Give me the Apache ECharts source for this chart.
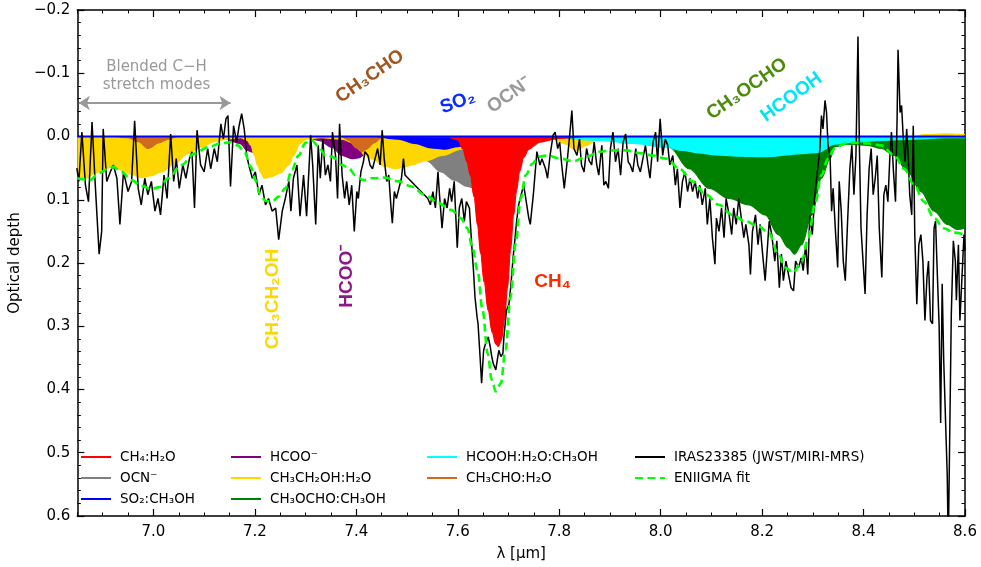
<!DOCTYPE html>
<html>
<head>
<meta charset="utf-8">
<script src="https://cdn.jsdelivr.net/npm/echarts@6/dist/echarts.min.js"></script>
<style>
html, body { margin: 0; padding: 0; background: #fff; }
#chart { width: 981px; height: 567px; }
</style>
</head>
<body>
<div id="chart"></div>
<script>
var obsX = [6.849,6.853,6.859,6.866,6.872,6.879,6.885,6.893,6.898,6.901,6.908,6.915,6.921,6.928,6.934,6.941,6.950,6.957,6.963,6.970,6.976,6.983,6.989,6.996,7.003,7.009,7.014,7.021,7.027,7.034,7.040,7.045,7.051,7.058,7.064,7.071,7.076,7.081,7.086,7.093,7.100,7.107,7.113,7.120,7.126,7.133,7.138,7.143,7.147,7.152,7.158,7.164,7.169,7.174,7.179,7.184,7.188,7.195,7.201,7.208,7.214,7.221,7.227,7.234,7.241,7.247,7.254,7.260,7.267,7.271,7.276,7.283,7.289,7.296,7.302,
  7.310,7.314,7.320,7.325,7.329,7.334,7.339,7.344,7.349,7.353,7.359,7.363,7.367,7.372,7.377,7.381,7.386,7.391,7.396,7.401,7.404,7.409,7.414,7.417,7.423,7.427,7.432,7.437,7.442,7.447,7.451,7.455,7.460,7.464,7.468,7.471,7.475,7.479,7.484,7.489,7.493,7.496,
  7.541,7.546,7.551,7.556,7.561,7.564,7.569,7.574,7.579,7.584,7.588,7.593,7.599,7.603,7.608,7.613,7.617,7.623,7.627,7.631,7.634,7.638,7.640,7.644,7.647,7.651,7.655,7.660,7.664,7.667,7.670,7.675,7.678,7.681,7.685,7.689,7.691,7.696,7.701,7.705,7.709,7.713,7.716,7.720,7.725,7.730,7.736,7.740,7.743,7.749,
  7.756,7.762,7.766,7.773,7.777,7.782,7.788,7.792,7.797,7.801,7.805,7.810,7.815,7.820,7.825,7.829,7.835,7.840,7.844,7.849,7.854,7.859,7.864,7.869,7.874,7.878,7.884,7.888,7.892,7.897,7.901,7.906,7.911,7.916,7.921,7.926,7.931,7.936,7.940,7.945,7.951,7.955,7.960,7.965,7.970,7.975,7.979,7.985,7.990,7.994,7.999,8.004,8.009,8.014,8.018,8.024,8.029,8.033,8.038,8.043,8.048,8.053,8.058,8.063,8.068,8.073,8.077,8.082,8.088,8.092,8.097,8.102,8.107,8.110,8.115,8.120,8.125,8.129,8.135,8.140,8.144,8.149,8.154,8.159,8.164,8.168,8.174,8.177,8.181,8.187,8.192,8.196,8.201,8.206,
  8.214,8.219,8.225,8.229,8.234,8.238,8.242,8.247,8.252,8.257,8.262,8.266,8.272,8.277,8.281,8.286,8.290,8.294,8.299,8.304,8.309,8.314,8.317,8.320,8.324,8.327,8.330,8.334,8.337,8.340,8.345,8.349,8.352,8.356,8.360,8.364,8.368,8.373,8.377,8.381,8.385,8.389,8.392,8.395,8.399,8.403,8.407,8.411,8.415,8.419,8.423,8.427,8.431,8.436,8.440,8.444,8.448,8.452,8.455,8.459,8.463,8.466,8.468,8.472,8.475,8.478,8.482,8.485,8.488,8.491,8.495,8.498,8.501,8.505,8.509,8.513,8.517,8.521,8.525,8.528,8.532,8.536,8.539,8.542,8.545,8.549,8.552,8.555,8.558,8.562,8.565,8.567,8.570,8.573,8.577,8.581,8.583,8.587,8.590,8.594,8.598,8.600];
var obsY = [0.050,0.071,-0.007,0.077,0.103,-0.023,0.071,0.186,0.150,-0.012,0.071,0.056,0.045,0.066,0.139,0.056,0.087,0.071,-0.025,0.082,0.108,0.066,0.092,0.071,0.118,0.098,0.124,0.061,0.098,-0.004,0.071,0.035,0.082,0.045,0.066,0.035,0.024,0.113,-0.010,0.045,0.056,0.019,0.051,0.019,0.040,-0.020,0.004,-0.028,-0.033,0.079,-0.017,0.009,-0.017,-0.036,-0.012,0.030,0.045,0.066,0.056,0.092,0.077,0.108,0.098,0.118,0.113,0.163,0.118,0.098,0.071,0.118,0.066,0.045,0.126,0.061,0.126,
  -0.002,0.045,0.139,0.014,0.066,0.004,0.061,0.045,0.071,-0.007,0.030,0.098,-0.020,0.061,0.098,0.071,0.108,0.077,0.150,0.087,0.098,0.056,0.040,0.024,0.030,0.045,0.051,0.035,0.019,0.045,-0.010,0.035,0.071,0.061,0.108,0.137,0.087,0.098,0.082,0.066,0.035,0.061,
  0.098,0.108,0.087,0.113,0.056,0.092,0.145,0.098,0.113,0.082,0.103,0.071,0.176,0.113,0.098,0.134,0.103,0.113,0.165,0.212,0.254,0.285,0.296,0.348,0.390,0.338,0.327,0.317,0.332,0.348,0.359,0.369,0.353,0.338,0.348,0.343,0.317,0.275,0.265,0.233,0.192,0.160,0.134,0.108,0.092,0.077,0.108,0.129,0.139,0.092,
  0.024,0.045,0.035,0.051,0.066,0.030,-0.002,-0.007,0.019,0.009,0.045,0.082,0.045,0.004,-0.041,0.019,0.030,0.004,0.045,0.056,0.019,0.038,0.045,0.009,0.045,0.061,0.014,0.077,0.071,0.082,0.019,-0.007,0.040,0.019,0.061,0.009,-0.004,0.040,0.045,0.056,0.019,0.045,0.056,0.035,0.014,0.045,0.066,0.009,-0.007,0.040,-0.028,0.030,0.004,0.014,0.045,0.030,0.077,0.051,0.113,0.071,0.056,0.087,0.066,0.087,0.071,0.098,0.077,0.108,0.082,0.139,0.098,0.160,0.202,0.129,0.150,0.113,0.160,0.098,0.124,0.155,0.113,0.139,0.098,0.129,0.160,0.139,0.171,0.218,0.150,0.124,0.171,0.139,0.186,0.228,
  0.134,0.155,0.197,0.165,0.239,0.186,0.228,0.197,0.218,0.239,0.244,0.197,0.207,0.192,0.212,0.171,0.218,0.124,0.155,0.092,0.056,0.019,-0.033,-0.012,-0.057,-0.038,0.014,0.030,0.118,0.082,0.155,0.207,0.071,0.118,0.197,0.228,0.145,0.051,0.014,0.092,0.030,-0.158,0.024,0.145,0.197,0.249,0.124,0.051,0.019,0.092,0.066,0.030,0.145,0.223,0.092,0.077,0.103,0.030,-0.007,0.056,0.103,-0.023,-0.137,-0.038,-0.049,-0.002,0.040,-0.012,0.030,0.092,0.124,-0.017,0.155,0.265,0.171,0.155,0.197,0.291,0.223,0.197,0.291,0.296,0.145,0.134,0.207,0.299,0.453,0.233,0.353,0.458,0.536,0.650,0.650,0.281,0.165,0.197,0.259,0.171,0.291,0.223,0.155,0.180];

// ENIIGMA fit
var fitX = [6.850,6.866,6.875,6.892,6.911,6.921,6.937,6.957,6.976,6.996,7.012,7.029,7.055,7.081,7.107,7.133,7.152,7.166,7.179,7.192,7.201,7.211,7.221,7.234,7.247,7.260,7.273,7.286,7.300,7.312,7.325,7.339,7.352,7.372,7.385,7.398,7.414,7.430,7.456,7.483,7.509,7.535,7.561,7.587,7.606,7.619,7.629,7.639,7.649,7.659,7.667,7.675,7.685,7.694,7.704,7.714,7.724,7.734,7.747,7.760,7.776,7.802,7.828,7.854,7.880,7.906,7.932,7.958,7.985,8.011,8.037,8.063,8.089,8.115,8.141,8.167,8.193,8.213,8.232,8.245,8.262,8.278,8.291,8.304,8.317,8.330,8.343,8.363,8.382,8.408,8.435,8.461,8.480,8.500,8.519,8.539,8.558,8.578,8.600];
var fitY = [0.066,0.068,0.069,0.058,0.051,0.048,0.056,0.069,0.078,0.083,0.080,0.066,0.045,0.027,0.017,0.011,0.009,0.014,0.024,0.048,0.069,0.092,0.102,0.103,0.095,0.082,0.053,0.030,0.010,0.006,0.015,0.030,0.032,0.045,0.050,0.061,0.069,0.066,0.065,0.071,0.079,0.092,0.105,0.116,0.129,0.145,0.176,0.212,0.275,0.343,0.385,0.403,0.390,0.338,0.254,0.170,0.098,0.061,0.043,0.032,0.030,0.035,0.039,0.032,0.024,0.022,0.022,0.026,0.030,0.035,0.051,0.071,0.092,0.108,0.124,0.134,0.142,0.152,0.186,0.207,0.215,0.197,0.160,0.108,0.061,0.035,0.019,0.011,0.010,0.011,0.014,0.030,0.051,0.077,0.103,0.129,0.145,0.152,0.155];

// fitted ice components
var ch4X = [7.500,7.580,7.600,7.610,7.618,7.625,7.632,7.639,7.645,7.652,7.660,7.668,7.675,7.680,7.686,7.692,7.698,7.704,7.710,7.716,7.722,7.730,7.740,7.760,7.800,7.850];
var ch4Y = [0.000,0.001,0.005,0.020,0.040,0.062,0.095,0.140,0.185,0.230,0.275,0.310,0.328,0.332,0.322,0.290,0.240,0.180,0.125,0.085,0.055,0.033,0.020,0.009,0.003,0.000];

var ocnX = [7.450,7.480,7.510,7.538,7.567,7.593,7.619,7.640,7.660,7.690,7.720,7.745,7.770,7.800,7.830];
var ocnY = [0.000,0.008,0.022,0.038,0.056,0.069,0.079,0.084,0.081,0.062,0.036,0.016,0.006,0.001,0.000];

var so2X = [7.440,7.482,7.515,7.548,7.574,7.600,7.626,7.652,7.700,7.760,7.800];
var so2Y = [0.000,0.004,0.011,0.018,0.020,0.016,0.009,0.004,0.002,0.001,0.000];

var hcooX = [7.110,7.143,7.170,7.186,7.192,7.210,7.230,7.255,7.280,7.300,7.326,7.352,7.372,7.391,7.404,7.420,7.440,7.460,7.490];
var hcooY = [0.000,0.004,0.011,0.022,0.024,0.030,0.026,0.012,0.003,0.001,0.006,0.017,0.030,0.035,0.034,0.026,0.012,0.004,0.000];

var ethX = [6.850,6.866,6.885,6.905,6.921,6.937,6.957,6.976,6.996,7.016,7.042,7.068,7.094,7.120,7.146,7.172,7.185,7.192,7.199,7.205,7.212,7.218,7.231,7.250,7.267,7.276,7.289,7.302,7.330,7.370,7.400,7.417,7.430,7.456,7.476,7.496,7.509,7.538,7.570,7.607,7.640,7.680,7.720,7.760,7.790,7.809,7.835,7.854,7.874,7.887,7.930,8.000,8.500,8.520,8.560,8.600];
var ethY = [0.066,0.066,0.058,0.051,0.048,0.053,0.060,0.065,0.062,0.056,0.043,0.027,0.017,0.008,0.004,0.002,0.006,0.014,0.030,0.045,0.058,0.066,0.064,0.058,0.045,0.030,0.011,0.004,0.002,0.004,0.012,0.030,0.035,0.047,0.051,0.048,0.045,0.038,0.030,0.020,0.012,0.006,0.003,0.002,0.004,0.011,0.022,0.014,0.006,0.003,0.001,0.000,0.000,-0.003,-0.004,-0.003];

var mfX = [7.900,7.950,7.990,8.017,8.056,8.096,8.135,8.174,8.206,8.232,8.252,8.264,8.278,8.298,8.317,8.334,8.343,8.369,8.409,8.435,8.461,8.487,8.513,8.539,8.565,8.585,8.600];
var mfY = [0.000,0.004,0.009,0.017,0.051,0.082,0.098,0.108,0.124,0.155,0.176,0.186,0.171,0.124,0.066,0.035,0.016,0.012,0.014,0.019,0.030,0.056,0.087,0.118,0.139,0.147,0.145];

var faX = [7.700,7.750,7.800,7.880,7.945,8.011,8.043,8.076,8.108,8.150,8.206,8.278,8.311,8.343,8.380,8.440,8.500,8.560,8.600];
var faY = [0.000,0.002,0.003,0.006,0.011,0.017,0.022,0.026,0.029,0.031,0.032,0.027,0.025,0.012,0.009,0.006,0.004,0.002,0.002];

var aceX = [6.925,6.950,6.970,6.990,7.010,7.030,7.050,7.370,7.385,7.400,7.410,7.420,7.435,7.450,7.465];
var aceY = [0.000,0.002,0.008,0.019,0.010,0.004,0.000,0.000,0.006,0.018,0.024,0.020,0.010,0.002,0.000];

var xMajor = [7.0, 7.2, 7.4, 7.6, 7.8, 8.0, 8.2, 8.4, 8.6];

var FONT = 'DejaVu Sans';

function pairs(xs, ys) {
    return xs.map(function(x, i) { return [x, ys[i]]; });
}

// each component is its own filled curve; z keeps the drawing order strict
function component(name, color, xs, ys, z) {
    return {
        name: name,
        type: 'line',
        z: z,
        data: pairs(xs, ys),
        symbol: 'none',
        smooth: 0.35,
        smoothMonotone: 'x',
        lineStyle: { color: color, width: 1.2 },
        itemStyle: { color: color },
        areaStyle: { color: color, opacity: 1 },
        silent: true
    };
}

var myChart = echarts.init(document.getElementById('chart'));

function xAxisDef(pos, minor) {
    return {
        type: 'value', position: pos, min: 6.85, max: 8.6,
        interval: minor ? 0.05 : undefined,
        axisLine: { show: !minor, onZero: false, lineStyle: { color: '#000', width: 1.5 } },
        axisTick: minor
            ? { show: true, inside: true, length: 3.5, lineStyle: { color: '#000', width: 1 } }
            : { show: true, inside: true, length: 7, customValues: xMajor, lineStyle: { color: '#000', width: 1.2 } },
        axisLabel: (pos === 'bottom' && !minor)
            ? { show: true, customValues: xMajor, margin: 9, fontSize: 15, color: '#000', fontFamily: FONT,
                formatter: function(v) { return v.toFixed(1); } }
            : { show: false },
        splitLine: { show: false },
        name: (pos === 'bottom' && !minor) ? 'λ [µm]' : '',
        nameLocation: 'middle', nameGap: 31,
        nameTextStyle: { fontSize: 15, color: '#000', fontFamily: FONT }
    };
}

function yAxisDef(pos) {
    return {
        type: 'value', position: pos, inverse: true, min: -0.2, max: 0.6, interval: 0.1,
        axisLine: { show: true, onZero: false, lineStyle: { color: '#000', width: 1.5 } },
        axisTick: { show: true, inside: true, length: 7, lineStyle: { color: '#000', width: 1.2 } },
        minorTick: { show: true, splitNumber: 5, length: 3.5, lineStyle: { color: '#000', width: 1 } },
        axisLabel: pos === 'left' ? {
            show: true, margin: 7, fontSize: 15, color: '#000', fontFamily: FONT,
            formatter: function(v) {
                if (Math.abs(v) < 1e-9) return '0.0';
                return (v < 0 ? '\u2212' : '') + Math.abs(v).toFixed(1);
            }
        } : { show: false },
        splitLine: { show: false },
        minorSplitLine: { show: false },
        name: pos === 'left' ? 'Optical depth' : '',
        nameLocation: 'middle', nameGap: 50, nameRotate: 90,
        nameTextStyle: { fontSize: 15, color: '#000', fontFamily: FONT }
    };
}

var legendBase = {
    orient: 'vertical', top: 450, padding: 0,
    itemWidth: 30, itemHeight: 14, itemGap: 7,
    itemStyle: { opacity: 0, borderWidth: 0 },
    lineStyle: { width: 2 },
    textStyle: { fontSize: 13.5, color: '#000', fontFamily: FONT, padding: [0, 0, 0, 4] },
    selectedMode: false
};

var names = ['CH₄:H₂O', 'OCN⁻', 'SO₂:CH₃OH', 'HCOO⁻', 'CH₃CH₂OH:H₂O', 'CH₃OCHO:CH₃OH',
             'HCOOH:H₂O:CH₃OH', 'CH₃CHO:H₂O', 'IRAS23385 (JWST/MIRI-MRS)', 'ENIIGMA fit'];

var option = {
    animation: false,
    backgroundColor: '#fff',
    grid: { left: 70, right: 16, top: 10, bottom: 46 },
    xAxis: [xAxisDef('bottom', false), xAxisDef('bottom', true), xAxisDef('top', false), xAxisDef('top', true)],
    yAxis: [yAxisDef('left'), yAxisDef('right')],
    legend: [
        Object.assign({}, legendBase, { left: 80, data: names.slice(0, 3) }),
        Object.assign({}, legendBase, { left: 230, data: names.slice(3, 6) }),
        Object.assign({}, legendBase, { left: 426, data: names.slice(6, 8) }),
        Object.assign({}, legendBase, { left: 634, data: names.slice(8, 10) })
    ],
    series: [
        component(names[5], '#008000', mfX, mfY, 2),
        component(names[1], '#808080', ocnX, ocnY, 3),
        component(names[3], '#800080', hcooX, hcooY, 4),
        component(names[4], '#ffd700', ethX, ethY, 5),
        component(names[7], '#d2691e', aceX, aceY, 6),
        component(names[6], '#00ffff', faX, faY, 7),
        component(names[2], '#0000ff', so2X, so2Y, 8),
        component(names[0], '#ff0000', ch4X, ch4Y, 9),
        {
            // zero line + the "blended C-H" arrow
            type: 'line', z: 10, data: [[6.85, 0], [8.6, 0]], symbol: 'none', silent: true,
            lineStyle: { color: '#0000ff', width: 2 },
            markLine: {
                silent: true, symbol: ['arrow', 'arrow'], symbolSize: 11,
                label: { show: false },
                lineStyle: { color: '#999', width: 2, type: 'solid' },
                data: [[{ coord: [6.853, -0.053] }, { coord: [7.152, -0.053] }]]
            }
        },
        {
            name: names[8], type: 'line', z: 11, data: pairs(obsX, obsY), symbol: 'none',
            lineStyle: { color: '#000', width: 1.5 }, itemStyle: { color: '#000' }, silent: true
        },
        {
            name: names[9], type: 'line', z: 12, data: pairs(fitX, fitY), symbol: 'none',
            smooth: 0.35, smoothMonotone: 'x',
            lineStyle: { color: '#00ff00', width: 2.6, type: [8, 4.5] }, itemStyle: { color: '#00ff00' }, silent: true
        }
    ]
};
myChart.setOption(option);

// annotations, placed in data coordinates
var labels = [
    { t: 'CH₃CHO', x: 7.427, y: -0.095, rot: 35, c: '#a0561e' },
    { t: 'SO₂', x: 7.600, y: -0.054, rot: 20, c: '#0a2cff' },
    { t: 'OCN⁻', x: 7.701, y: -0.065, rot: 35, c: '#999999' },
    { t: 'CH₃OCHO', x: 8.170, y: -0.075, rot: 35, c: '#4c8c0a' },
    { t: 'HCOOH', x: 8.258, y: -0.062, rot: 36, c: '#00e4f4' },
    { t: 'CH₄', x: 7.787, y: 0.230, rot: 0, c: '#ff2a00' },
    { t: 'CH₃CH₂OH', x: 7.236, y: 0.257, rot: 90, c: '#ffd700' },
    { t: 'HCOO⁻', x: 7.381, y: 0.221, rot: 90, c: '#8a1a8a' }
];
var graphics = labels.map(function(l) {
    var p = myChart.convertToPixel({ xAxisIndex: 0, yAxisIndex: 0 }, [l.x, l.y]);
    return {
        type: 'text', x: p[0], y: p[1], rotation: l.rot * Math.PI / 180, silent: true, z: 100,
        style: { text: l.t, fill: l.c, fontSize: 19, fontWeight: 'bold', fontFamily: 'Liberation Sans',
                 align: 'center', verticalAlign: 'middle' }
    };
});
[['Blended C\u2212H', -0.109], ['stretch modes', -0.081]].forEach(function(s) {
    var p = myChart.convertToPixel({ xAxisIndex: 0, yAxisIndex: 0 }, [7.006, s[1]]);
    graphics.push({
        type: 'text', x: p[0], y: p[1], silent: true, z: 100,
        style: { text: s[0], fill: '#999', fontSize: 15, fontFamily: FONT, align: 'center', verticalAlign: 'middle' }
    });
});
myChart.setOption({ graphic: graphics });
</script>
</body>
</html>
